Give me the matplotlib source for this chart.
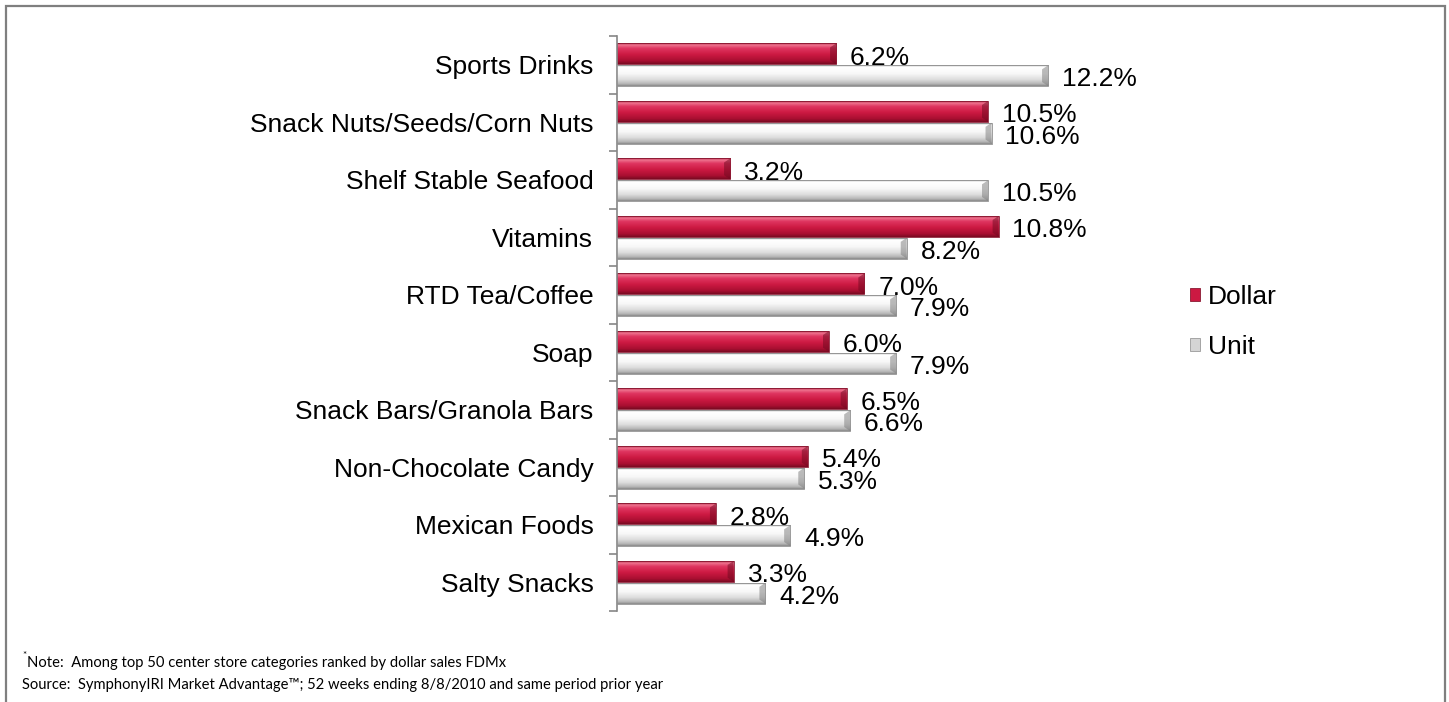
import numpy as np
import matplotlib
matplotlib.use("Agg")
import matplotlib.pyplot as plt
from matplotlib.colors import LinearSegmentedColormap
from matplotlib.patches import Rectangle, Polygon, Patch

categories = [
    "Sports Drinks",
    "Snack Nuts/Seeds/Corn Nuts",
    "Shelf Stable Seafood",
    "Vitamins",
    "RTD Tea/Coffee",
    "Soap",
    "Snack Bars/Granola Bars",
    "Non-Chocolate Candy",
    "Mexican Foods",
    "Salty Snacks",
]
dollar = [6.2, 10.5, 3.2, 10.8, 7.0, 6.0, 6.5, 5.4, 2.8, 3.3]
unit = [12.2, 10.6, 10.5, 8.2, 7.9, 7.9, 6.6, 5.3, 4.9, 4.2]
series_names = ["Dollar", "Unit"]

note_text = "Note:  Among top 50 center store categories ranked by dollar sales FDMx"
source_text = ("Source:  SymphonyIRI Market Advantage\u2122; 52 weeks ending 8/8/2010 "
               "and same period prior year")

plt.rcParams["font.family"] = ["Liberation Sans", "DejaVu Sans"]

W, H = 1449, 702
fig = plt.figure(figsize=(W / 100, H / 100), dpi=100)
fig.patch.set_facecolor("white")

ax = fig.add_axes([617 / W, 1 - 611 / H, 530 / W, (611 - 36) / H])

# vertical shading for the bevelled bars (top -> bottom)
red_stops = [(0.0, "#a31535"), (0.08, "#ee7590"), (0.25, "#df3560"),
             (0.55, "#cc1942"), (0.85, "#a90f31"), (1.0, "#7a0a22")]
grey_stops = [(0.0, "#a8a8a8"), (0.08, "#ffffff"), (0.4, "#f8f8f8"),
              (0.7, "#dcdcdc"), (0.9, "#b6b6b6"), (1.0, "#8a8a8a")]


def shade(stops, n=64):
    cmap = LinearSegmentedColormap.from_list("s", stops)
    col = cmap(np.linspace(0, 1, n))[:, :3]
    return col[:, None, :]


red_grad = shade(red_stops)
grey_grad = shade(grey_stops)

bar_h = 0.36
offset = 0.19
ypos = np.arange(len(categories))
px_x = 1 / 35.33   # data units per pixel (x)
px_y = 1 / 57.5    # data units per pixel (y)


def draw_bar(v, yc, grad, bevel_col, edge_col, z):
    top, bot = yc - bar_h / 2, yc + bar_h / 2
    ax.imshow(np.repeat(grad, 8, axis=1), extent=[0, v, bot, top],
              origin="upper", aspect="auto", interpolation="bilinear", zorder=z)
    b = 6 * px_x
    d = 4 * px_y
    ax.add_patch(Polygon([(v - b, top + d), (v, top), (v, bot), (v - b, bot - d)],
                         closed=True, facecolor=bevel_col, alpha=0.5,
                         edgecolor="none", zorder=z + 0.1))
    ax.add_patch(Rectangle((0, top), v, bar_h, facecolor="none",
                           edgecolor=edge_col, lw=0.6, zorder=z + 0.2))


for i, (d_val, u_val) in enumerate(zip(dollar, unit)):
    yd = ypos[i] - offset
    yu = ypos[i] + offset
    draw_bar(d_val, yd, red_grad, "#6e0a20", "#8a1a33", 2)
    ax.annotate(f"{d_val:.1f}%", xy=(d_val, yd), xytext=(10, -3),
                textcoords="offset points", va="center", ha="left",
                fontsize=19, color="black", zorder=3, annotation_clip=False)
    draw_bar(u_val, yu, grey_grad, "#7a7a7a", "#8f8f8f", 4)
    ax.annotate(f"{u_val:.1f}%", xy=(u_val, yu), xytext=(10, -2.5),
                textcoords="offset points", va="center", ha="left",
                fontsize=19, color="black", zorder=5, annotation_clip=False)

ax.set_xlim(0, 15)
ax.set_ylim(len(categories) - 0.5, -0.5)

for s in ["top", "right", "bottom"]:
    ax.spines[s].set_visible(False)
ax.spines["left"].set_color("#868686")
ax.spines["left"].set_linewidth(1.2)
ax.set_xticks([])
ax.set_yticks(ypos)
ax.set_yticklabels(categories, fontsize=19)
ax.set_yticks(np.arange(-0.5, len(categories), 1.0), minor=True)
ax.tick_params(axis="y", which="major", length=0, pad=17)
ax.tick_params(axis="y", which="minor", length=6, width=1.2, color="#868686",
               direction="out")

handles = [Patch(facecolor="#cc1942", edgecolor="#8a1a33", lw=0.6),
           Patch(facecolor="#d4d4d4", edgecolor="#9a9a9a", lw=0.6)]
fig.legend(handles, series_names, loc="center left",
           bbox_to_anchor=(1179 / W, 1 - 322 / H), frameon=False, fontsize=19,
           handlelength=0.4, handleheight=0.4, handletextpad=0.3,
           labelspacing=1.0, borderaxespad=0)

fig.text(22 / W, 1 - 656 / H, "*", fontsize=7, family="Lato", va="center")
fig.text(27 / W, 1 - 663 / H, note_text, fontsize=10.6, family="Lato", va="center")
fig.text(22 / W, 1 - 685 / H, source_text, fontsize=10.6, family="Lato", va="center")

# outer frame
fig.patches.append(Rectangle((6 / W, -0.02), (1445 - 6) / W, 1 - 6 / H + 0.02,
                             transform=fig.transFigure, facecolor="none",
                             edgecolor="#7f7f7f", lw=1.6, zorder=10))

fig.savefig("out.png", dpi=100)
